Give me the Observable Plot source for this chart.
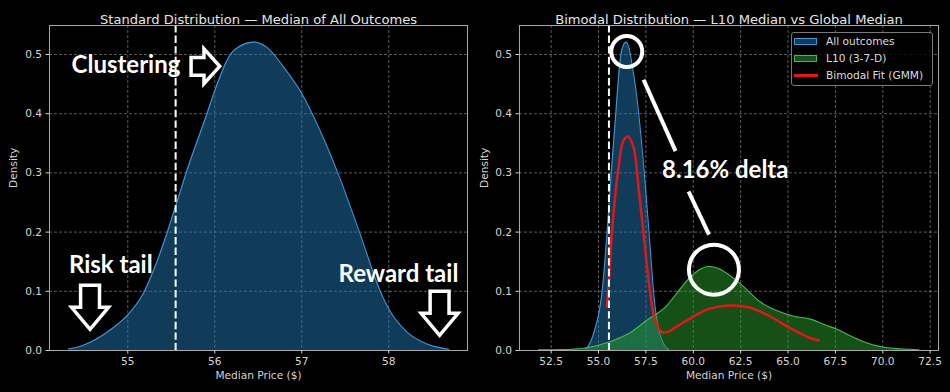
<!DOCTYPE html>
<html><head><meta charset="utf-8">
<script src="https://cdn.jsdelivr.net/npm/d3@7"></script>
<script src="https://cdn.jsdelivr.net/npm/@observablehq/plot@0.6"></script>
<style>
html,body{margin:0;padding:0;background:#000;}
#wrap{position:relative;width:950px;height:392px;display:flex;background:#000;overflow:hidden;}
#wrap svg{display:block;flex:none;}
.legend{position:absolute;left:791px;top:32px;width:142px;height:54px;border:1px solid #7a7a7a;border-radius:3px;background:rgba(0,0,0,0.8);box-sizing:border-box;font:10.6px "DejaVu Sans",sans-serif;color:#ddd;}
.legend .sw{position:absolute;left:2px;width:23px;height:7px;box-sizing:border-box;}
.legend .ln{position:absolute;left:2px;width:24px;height:2.5px;background:#e01818;}
.legend .tx{position:absolute;left:34px;line-height:12px;white-space:nowrap;}
</style>
</head><body>
<div id="wrap"></div>
<script>
// ---- data ----
const blueX = [54.32,54.42,54.57,54.80,55.0,55.17,55.34,55.45,55.57,55.68,55.91,56.0,56.22,56.45,56.60,56.79,57.0,57.12,57.42,57.67,57.90,58.0,58.21,58.44,58.69];
const blueY = [0.003,0.0056,0.014,0.035,0.060,0.094,0.152,0.198,0.253,0.304,0.400,0.439,0.507,0.521,0.512,0.479,0.434,0.400,0.298,0.197,0.101,0.070,0.031,0.011,0.002];
const greenX = [51.83,53.0,54.03,55.0,55.79,56.67,57.55,58.61,59.31,59.84,60.3,60.81,61.3,61.78,62.48,63.54,64.6,65.3,66.18,66.97,67.59,68.2,68.82,70.05,71.4,71.9];
const greenY = [0.001,0.0015,0.003,0.009,0.017,0.03,0.051,0.076,0.104,0.124,0.136,0.142,0.139,0.130,0.113,0.082,0.065,0.058,0.053,0.043,0.036,0.026,0.017,0.0056,0.002,0.001];
const redX = [55.44,55.53,55.7,56.06,56.32,56.55,56.85,57.11,57.47,57.73,57.99,58.35,58.7,59.05,59.93,60.81,61.87,62.92,63.98,65.04,66.09,66.62];
const redY = [0.074,0.107,0.197,0.31,0.355,0.3615,0.343,0.276,0.169,0.096,0.051,0.031,0.032,0.039,0.056,0.070,0.076,0.073,0.059,0.039,0.022,0.017];
const globalMedian = 55.55;
const yTicks = [0,0.1,0.2,0.3,0.4,0.5];
const leftTicks = [55,56,57,58];
const rightTicks = [52.5,55,57.5,60,62.5,65,67.5,70,72.5];
const titles = ["Standard Distribution — Median of All Outcomes","Bimodal Distribution — L10 Median vs Global Median"];
const xLabel = "Median Price ($)";
const yLabel = "Density";
const legendLabels = ["All outcomes","L10 (3-7-D)","Bimodal Fit (GMM)"];
// annotations (data coordinates)
const startNotes = ["Clustering","Risk tail"];
const startNoteX = [54.354,54.323];
const startNoteY = [0.481,0.144];
const endNotes = ["Reward tail"];
const endNoteX = [58.80];
const endNoteY = [0.128];
const downArrowX = [54.566,58.584];
const downArrowY = [0.073,0.0628];
const rightArrowX = [55.892];
const rightArrowY = [0.480];
const rightNote = ["8.16% delta"];
const rightNoteX = [58.35];
const rightNoteY = [0.304];
const smallCircleX = [56.49], smallCircleY = [0.505];
const bigCircleX = [61.09], bigCircleY = [0.1365];
const linkX1 = [57.376,59.753], linkY1 = [0.4573,0.2686];
const linkX2 = [59.066,60.83],  linkY2 = [0.3367,0.1959];

const idx = a => a.map((_, i) => i);
const pts = (xs, ys) => xs.map((x, i) => ({x, y: ys[i]}));
const blue = pts(blueX, blueY), green = pts(greenX, greenY), red = pts(redX, redY);

// block arrow symbol pointing down (in units of r)
function blockArrow(shaftHW, headHW, headStart) {
  return {draw(ctx, size) {
    const r = Math.sqrt(size / Math.PI);
    const p = [[-shaftHW,-1],[shaftHW,-1],[shaftHW,headStart],[headHW,headStart],[0,1],[-headHW,headStart],[-shaftHW,headStart]];
    ctx.moveTo(p[0][0]*r, p[0][1]*r);
    for (let i = 1; i < p.length; i++) ctx.lineTo(p[i][0]*r, p[i][1]*r);
    ctx.closePath();
  }};
}
const downArrow = blockArrow(0.43, 0.84, 0.0);
const sideArrow = blockArrow(0.62, 1.22, -0.1);

const gridStyle = {stroke: "#fff", strokeOpacity: 0.45, strokeDasharray: "3,2", strokeWidth: 0.8};
const noteStyle = {fontSize: 24, fontWeight: 700, fontFamily: "Lato", fill: "#fff", lineAnchor: "middle"};

function panel({ml, mr, xDomain, xTicks, xFmt, title, ylabDx, marks}) {
  return Plot.plot({
    width: 475, height: 392,
    marginLeft: ml, marginRight: mr, marginTop: 25, marginBottom: 42,
    style: {background: "#000", color: "#d4d4d4", fontFamily: "'DejaVu Sans', sans-serif", fontSize: "10.6px", overflow: "visible"},
    x: {domain: xDomain, label: null},
    y: {domain: [0, 0.549], label: null},
    marks: [
      Plot.gridX(xTicks, gridStyle),
      Plot.gridY(yTicks, gridStyle),
      ...marks,
      Plot.frame({stroke: "#a8a8a8"}),
      Plot.axisX(xTicks, {tickSize: 3.5, tickPadding: 3, tickFormat: xFmt, label: null}),
      Plot.axisY(yTicks, {tickSize: 3.5, tickPadding: 4, tickFormat: d => d.toFixed(1), label: null}),
      Plot.text([title], {frameAnchor: "top", dy: -11, fontSize: 13.1, fill: "#e6e6e6"}),
      Plot.text([yLabel], {frameAnchor: "left", dx: ylabDx, rotate: -90, fill: "#d4d4d4"}),
      Plot.text([xLabel], {frameAnchor: "bottom", dy: 28, fill: "#d4d4d4"})
    ]
  });
}

const left = panel({
  ml: 49, mr: 8, xDomain: [54.1, 58.905], xTicks: leftTicks, xFmt: d => String(d),
  title: titles[0], ylabDx: -36,
  marks: [
    Plot.areaY(blue, {x: "x", y: "y", fill: "#1f77b4", fillOpacity: 0.5, curve: "monotone-x"}),
    Plot.lineY(blue, {x: "x", y: "y", stroke: "#3f94d6", strokeWidth: 1.1, curve: "monotone-x"}),
    Plot.ruleX([globalMedian], {stroke: "#fff", strokeWidth: 2, strokeDasharray: "7.4,3.2"}),
    Plot.text(idx(startNotes), {x: i => startNoteX[i], y: i => startNoteY[i], text: i => startNotes[i], textAnchor: "start", ...noteStyle}),
    Plot.text(idx(endNotes), {x: i => endNoteX[i], y: i => endNoteY[i], text: i => endNotes[i], textAnchor: "end", ...noteStyle}),
    Plot.dot(idx(downArrowX), {x: i => downArrowX[i], y: i => downArrowY[i], r: 22, symbol: downArrow, fill: "#000", stroke: "#fff", strokeWidth: 3.5}),
    Plot.dot(idx(rightArrowX), {x: i => rightArrowX[i], y: i => rightArrowY[i], r: 14.3, rotate: -90, symbol: sideArrow, fill: "#000", stroke: "#fff", strokeWidth: 3.5})
  ]
});

const right = panel({
  ml: 44, mr: 12, xDomain: [50.83, 72.94], xTicks: rightTicks, xFmt: d => d.toFixed(1),
  title: titles[1], ylabDx: -35,
  marks: [
    Plot.areaY(blue, {x: "x", y: "y", fill: "#1f77b4", fillOpacity: 0.5, curve: "monotone-x"}),
    Plot.lineY(blue, {x: "x", y: "y", stroke: "#3f94d6", strokeWidth: 1.1, curve: "monotone-x"}),
    Plot.areaY(green, {x: "x", y: "y", fill: "#2ca02c", fillOpacity: 0.5, curve: "monotone-x"}),
    Plot.lineY(green, {x: "x", y: "y", stroke: "#45b845", strokeWidth: 1.1, curve: "monotone-x"}),
    Plot.lineY(red, {x: "x", y: "y", stroke: "#e01818", strokeWidth: 2.5, curve: "catmull-rom"}),
    Plot.ruleX([globalMedian], {stroke: "#fff", strokeWidth: 2, strokeDasharray: "7.4,3.2"}),
    Plot.dot(idx(smallCircleX), {x: i => smallCircleX[i], y: i => smallCircleY[i], r: 15.5, stroke: "#fff", strokeWidth: 4, fill: "none"}),
    Plot.dot(idx(bigCircleX), {x: i => bigCircleX[i], y: i => bigCircleY[i], r: 25, stroke: "#fff", strokeWidth: 4, fill: "none"}),
    Plot.link(idx(linkX1), {x1: i => linkX1[i], y1: i => linkY1[i], x2: i => linkX2[i], y2: i => linkY2[i], stroke: "#fff", strokeWidth: 4}),
    Plot.text(idx(rightNote), {x: i => rightNoteX[i], y: i => rightNoteY[i], text: i => rightNote[i], textAnchor: "start", ...noteStyle})
  ]
});

const wrap = document.getElementById("wrap");
wrap.appendChild(left);
wrap.appendChild(right);

// legend
const lg = document.createElement("div");
lg.className = "legend";
const rowsTop = [8, 25, 42];
const swatches = [
  {bg: "rgba(31,119,180,0.5)", border: "#3f94d6"},
  {bg: "rgba(44,160,44,0.5)", border: "#45b845"},
  null
];
legendLabels.forEach((lab, i) => {
  if (swatches[i]) {
    const s = document.createElement("div");
    s.className = "sw";
    s.style.top = (rowsTop[i] - 3.5) + "px";
    s.style.background = swatches[i].bg;
    s.style.border = "1px solid " + swatches[i].border;
    lg.appendChild(s);
  } else {
    const l = document.createElement("div");
    l.className = "ln";
    l.style.top = (rowsTop[i] - 1) + "px";
    lg.appendChild(l);
  }
  const t = document.createElement("div");
  t.className = "tx";
  t.style.top = (rowsTop[i] - 6) + "px";
  t.textContent = lab;
  lg.appendChild(t);
});
wrap.appendChild(lg);
</script>
</body></html>
